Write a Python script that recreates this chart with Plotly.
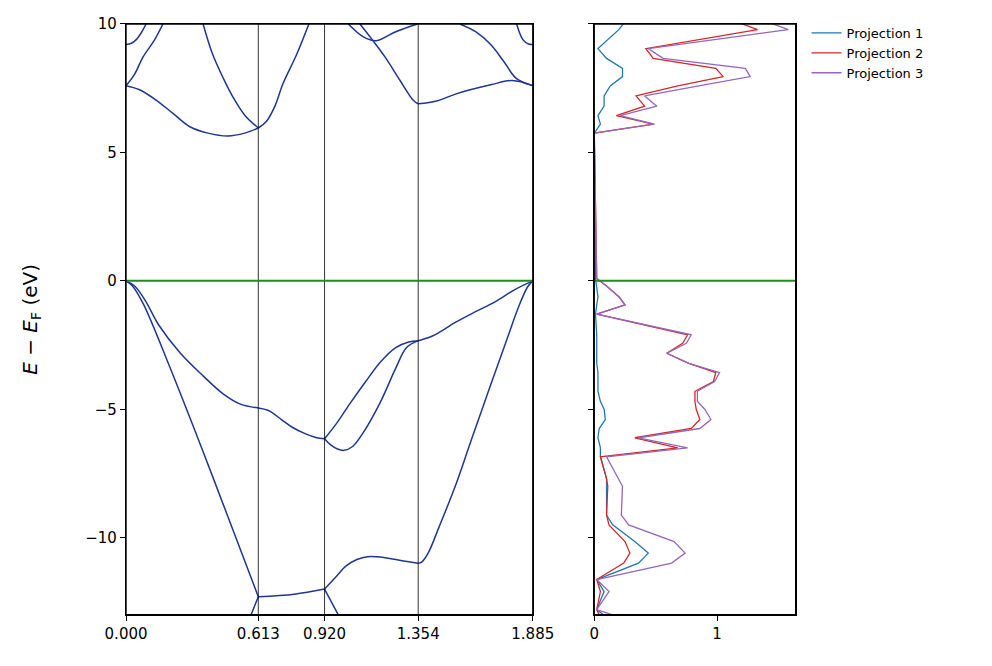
import plotly.graph_objects as go

# high-symmetry points
kticks = [0.000, 0.613, 0.920, 1.354, 1.885]
klabels = ["0.000", "0.613", "0.920", "1.354", "1.885"]

# band segments: (k list, E list)
bands = [
    ([0, 0.03, 0.08, 0.2, 0.35, 0.5, 0.613], [0, -0.2, -0.9, -3.3, -6.5, -9.8, -12.3]),
    ([0.613, 0.78, 0.92], [-12.3, -12.2, -12.0]),
    ([0.57, 0.613], [-13.2, -12.3]),
    ([0.92, 0.996], [-12.0, -13.2]),
    ([0.92, 0.97, 1.02, 1.07, 1.12, 1.2, 1.28, 1.354], [-12.0, -11.55, -11.1, -10.85, -10.74, -10.78, -10.9, -11.0]),
    ([1.354, 1.37, 1.4, 1.45, 1.53, 1.6, 1.69, 1.76, 1.82, 1.86, 1.885],
     [-11.0, -10.95, -10.6, -9.6, -7.9, -6.2, -4.05, -2.4, -1.0, -0.25, 0]),
    ([0, 0.04, 0.088, 0.15, 0.25, 0.357, 0.45, 0.53, 0.613],
     [0, -0.2, -0.75, -1.7, -2.8, -3.7, -4.4, -4.8, -4.95]),
    ([0.613, 0.66, 0.72, 0.77, 0.83, 0.88, 0.92], [-4.95, -5.05, -5.4, -5.7, -5.95, -6.1, -6.15]),
    ([0.92, 0.98, 1.04, 1.11, 1.18, 1.25, 1.31, 1.354], [-6.15, -5.5, -4.75, -3.93, -3.15, -2.6, -2.38, -2.33]),
    ([0.92, 0.95, 0.98, 1.01, 1.05, 1.1, 1.18, 1.25, 1.3, 1.354],
     [-6.15, -6.4, -6.55, -6.6, -6.45, -5.9, -4.7, -3.4, -2.6, -2.33]),
    ([1.354, 1.42, 1.53, 1.62, 1.71, 1.8, 1.885], [-2.33, -2.15, -1.6, -1.2, -0.82, -0.35, 0]),
    ([0, 0.06, 0.139, 0.22, 0.296, 0.38, 0.472, 0.55, 0.613],
     [7.6, 7.45, 7.04, 6.5, 6.0, 5.75, 5.64, 5.75, 5.95]),
    ([0.613, 0.65, 0.69, 0.727, 0.79, 0.852], [5.95, 6.2, 6.8, 7.67, 8.8, 10.1]),
    ([0.357, 0.4, 0.45, 0.495, 0.55, 0.613], [10.0, 8.85, 7.9, 7.16, 6.45, 5.95]),
    ([0, 0.04, 0.079, 0.13, 0.171], [7.6, 8.05, 8.72, 9.35, 10.0]),
    ([0, 0.025, 0.046, 0.07, 0.093], [9.2, 9.25, 9.38, 9.65, 10.0]),
    ([1.03, 1.1, 1.16, 1.25, 1.35], [10.0, 9.5, 9.35, 9.7, 10.0]),
    ([1.084, 1.14, 1.2, 1.27, 1.33, 1.354], [10.0, 9.4, 8.72, 7.8, 7.04, 6.89]),
    ([1.354, 1.44, 1.53, 1.69, 1.79, 1.885], [6.89, 7.0, 7.28, 7.63, 7.8, 7.6]),
    ([1.547, 1.62, 1.69, 1.75, 1.81, 1.885], [10.0, 9.7, 9.2, 8.55, 7.87, 7.6]),
    ([1.81, 1.84, 1.865, 1.885], [10.0, 9.38, 9.22, 9.2]),
]

dos_e = [10.1, 9.78, 9.04, 8.66, 8.27, 7.95, 7.59, 7.2, 6.8, 6.43, 6.1, 5.75, 0.09, -0.2,
         -0.62, -0.94, -1.3, -2.1, -2.43, -2.82, -3.21, -3.57, -3.92, -4.3, -4.7, -5.0, -5.4,
         -5.75, -6.11, -6.5, -6.85, -7.7, -8.0, -9.12, -9.5, -10.15, -10.6, -10.99, -11.63,
         -12.1, -12.8, -13.1]
proj1 = [0.25, 0.2, 0.03, 0.1, 0.23, 0.23, 0.13, 0.08, 0.08, 0.03, 0.05, 0.0, 0.01, 0.02,
         0.03, 0.02, 0.01, 0.02, 0.02, 0.02, 0.02, 0.03, 0.03, 0.03, 0.05, 0.08, 0.09,
         0.04, 0.03, 0.05, 0.05, 0.1, 0.1, 0.1, 0.15, 0.33, 0.44, 0.36, 0.02,
         0.08, 0.02, 0.1]
proj2 = [1.15, 1.33, 0.42, 0.48, 0.99, 1.05, 0.68, 0.34, 0.41, 0.18, 0.48, 0.0, 0.02, 0.1,
         0.2, 0.25, 0.02, 0.76, 0.72, 0.59, 0.77, 0.99, 0.97, 0.82, 0.82, 0.83, 0.86,
         0.79, 0.33, 0.68, 0.05, 0.1, 0.11, 0.1, 0.12, 0.25, 0.29, 0.24, 0.02,
         0.05, 0.02, 0.05]
proj3 = [1.4, 1.58, 0.44, 0.56, 1.23, 1.27, 0.85, 0.41, 0.51, 0.21, 0.49, 0.0, 0.02, 0.1,
         0.2, 0.25, 0.02, 0.79, 0.75, 0.59, 0.77, 1.02, 0.98, 0.84, 0.84, 0.9, 0.95,
         0.86, 0.36, 0.76, 0.1, 0.2, 0.23, 0.22, 0.28, 0.65, 0.74, 0.63, 0.02,
         0.12, 0.02, 0.21]

fig = go.Figure()

for k, e in bands:
    fig.add_trace(go.Scatter(x=k, y=e, mode="lines", line=dict(color="#1f3794", width=1.5, shape="spline", smoothing=1.0),
                             showlegend=False, hoverinfo="skip", xaxis="x", yaxis="y"))

for kv in kticks[1:-1]:
    fig.add_trace(go.Scatter(x=[kv, kv], y=[-13, 10], mode="lines", line=dict(color="black", width=0.8),
                             showlegend=False, hoverinfo="skip", xaxis="x", yaxis="y"))

fig.add_trace(go.Scatter(x=[0, 1.885], y=[0, 0], mode="lines", line=dict(color="#228b22", width=2),
                         showlegend=False, xaxis="x", yaxis="y"))

for vals, name, col in [(proj1, "Projection 1", "#1f77b4"), (proj2, "Projection 2", "#d62728"),
                        (proj3, "Projection 3", "#9467bd")]:
    fig.add_trace(go.Scatter(x=vals, y=dos_e, mode="lines", name=name, line=dict(color=col, width=1.3),
                             xaxis="x2", yaxis="y2"))

fig.add_trace(go.Scatter(x=[0, 1.64], y=[0, 0], mode="lines", line=dict(color="#228b22", width=2),
                         showlegend=False, xaxis="x2", yaxis="y2"))

axstyle = dict(showline=True, linecolor="black", linewidth=1.3, mirror=True, ticks="outside",
               ticklen=5, tickcolor="black", showgrid=False, zeroline=False,
               tickfont=dict(family="DejaVu Sans", size=15, color="black"))

ydom = [0.089, 0.976]
fig.update_layout(
    width=992, height=666, plot_bgcolor="white", paper_bgcolor="white",
    margin=dict(l=0, r=0, t=0, b=0, autoexpand=False),
    font=dict(family="DejaVu Sans", color="black", size=15),
    xaxis=dict(domain=[0.119, 0.529], range=[0, 1.885], tickvals=kticks, ticktext=klabels, **axstyle),
    yaxis=dict(domain=ydom, range=[-13, 10], tickvals=[-10, -5, 0, 5, 10],
               ticktext=["\u221210", "\u22125", "0", "5", "10"],
               title=dict(text="<i>E</i> \u2212 <i>E</i><sub>F</sub> (eV)", font=dict(size=20), standoff=42),
               **axstyle),
    xaxis2=dict(domain=[0.591, 0.794], range=[0, 1.64], tickvals=[0, 1], anchor="y2", **axstyle),
    yaxis2=dict(domain=ydom, range=[-13, 10], tickvals=[-10, -5, 0, 5, 10],
                showticklabels=False, anchor="x2", **axstyle),
    legend=dict(x=0.805, y=0.985, xanchor="left", yanchor="top", bgcolor="rgba(0,0,0,0)",
                font=dict(size=13, family="DejaVu Sans"), tracegroupgap=2),
    shapes=[dict(type="rect", xref=xr + " domain", yref=yr + " domain", x0=0, x1=1, y0=0, y1=1,
                 line=dict(color="black", width=1.3), layer="above")
            for xr, yr in [("x", "y"), ("x2", "y2")]],
)

fig.write_html("out.html")
